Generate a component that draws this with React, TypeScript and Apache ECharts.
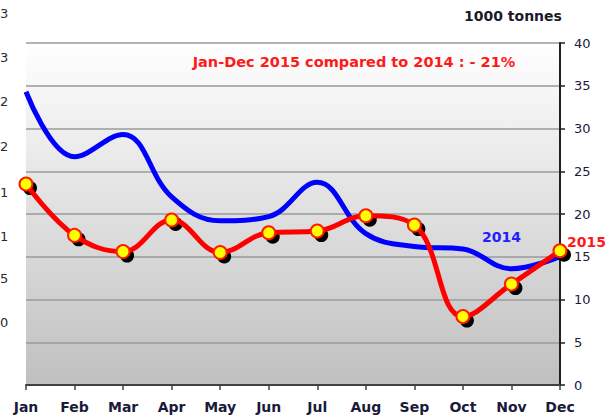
import React, { useEffect, useRef } from "react";
import * as echarts from "echarts";

const months = ["Jan", "Feb", "Mar", "Apr", "May", "Jun", "Jul", "Aug", "Sep", "Oct", "Nov", "Dec"];
const values2014 = [34.3, 26.7, 29.3, 22.0, 19.2, 19.7, 23.7, 17.7, 16.2, 15.9, 13.6, 15.0];
const values2015 = [23.5, 17.5, 15.6, 19.3, 15.5, 17.8, 18.0, 19.8, 18.7, 8.0, 11.8, 15.7];
const leftCutLabels = ["3", "3", "2", "2", "1", "1", "5", "0"];
const leftCutY = [13, 57, 101, 146, 192, 236, 278, 322];

const FONT = "DejaVu Sans";

export default function App() {
  const ref = useRef<HTMLDivElement>(null);
  useEffect(() => {
    if (!ref.current) return;
    const chart = echarts.init(ref.current, null, { renderer: "svg" });
    const graphics: any[] = leftCutLabels.map((t, i) => ({
      type: "text",
      x: 0,
      y: leftCutY[i],
      style: { text: t, fill: "#2a2a3a", font: `13px ${FONT}`, textAlign: "left", textVerticalAlign: "middle" },
    }));
    graphics.push(
      {
        type: "text",
        x: 464,
        y: 16,
        style: { text: "1000 tonnes", fill: "#1a1a2a", font: `bold 14px ${FONT}`, textAlign: "left", textVerticalAlign: "middle" },
      },
      {
        type: "text",
        x: 354,
        y: 62,
        style: {
          text: "Jan-Dec 2015 compared to 2014 : - 21%",
          fill: "#ff1a1a",
          font: `bold 14.5px ${FONT}`,
          textAlign: "center",
          textVerticalAlign: "middle",
        },
      },
      {
        type: "text",
        x: 482,
        y: 237,
        style: { text: "2014", fill: "#2020ff", font: `bold 14px ${FONT}`, textAlign: "left", textVerticalAlign: "middle" },
      },
      {
        type: "text",
        x: 567,
        y: 242,
        z: 100,
        style: { text: "2015", fill: "#ff1a1a", font: `bold 14px ${FONT}`, textAlign: "left", textVerticalAlign: "middle" },
      }
    );
    chart.setOption({
      animation: false,
      backgroundColor: "#ffffff",
      grid: {
        left: 26,
        right: 51,
        top: 43,
        bottom: 33,
        show: true,
        borderWidth: 0,
        backgroundColor: new echarts.graphic.LinearGradient(0, 0, 0, 1, [
          { offset: 0, color: "#ffffff" },
          { offset: 1, color: "#bfbfbf" },
        ]),
      },
      xAxis: {
        type: "category",
        data: months,
        boundaryGap: false,
        axisLine: { show: true, lineStyle: { color: "#404040", width: 2 } },
        axisTick: { show: true, length: 5, lineStyle: { color: "#404040", width: 1.5 }, interval: 0 },
        axisLabel: { color: "#1a1a3a", fontFamily: FONT, fontWeight: "bold", fontSize: 14, margin: 15, interval: 0 },
        splitLine: { show: false },
      },
      yAxis: {
        type: "value",
        position: "right",
        min: 0,
        max: 40,
        interval: 5,
        axisLine: { show: true, lineStyle: { color: "#202020", width: 2 } },
        axisTick: { show: true, length: 5, lineStyle: { color: "#202020", width: 1.5 } },
        axisLabel: { color: "#1a1a3a", fontFamily: FONT, fontSize: 13, margin: 14 },
        splitLine: { show: true, lineStyle: { color: "#9a9a9a", width: 1.5 } },
      },
      series: [
        {
          name: "2014",
          type: "line",
          data: values2014,
          smooth: 0.4,
          symbol: "none",
          lineStyle: { color: "#0000ff", width: 5 },
          z: 2,
        },
        {
          name: "2015 shadow",
          type: "line",
          data: values2015,
          smooth: 0.4,
          symbol: "circle",
          symbolSize: 14,
          symbolOffset: [4, 4],
          showSymbol: true,
          lineStyle: { width: 0, opacity: 0 },
          itemStyle: { color: "#000000" },
          z: 3,
        },
        {
          name: "2015",
          type: "line",
          data: values2015,
          smooth: 0.4,
          symbol: "circle",
          symbolSize: 13,
          showSymbol: true,
          lineStyle: { color: "#ff0000", width: 5 },
          itemStyle: { color: "#ffff00", borderColor: "#ff1a00", borderWidth: 2 },
          z: 4,
        },
      ],
      graphic: graphics,
    });
    return () => chart.dispose();
  }, []);
  return <div ref={ref} style={{ width: 611, height: 418, position: "absolute", left: 0, top: 0 }} />;
}
